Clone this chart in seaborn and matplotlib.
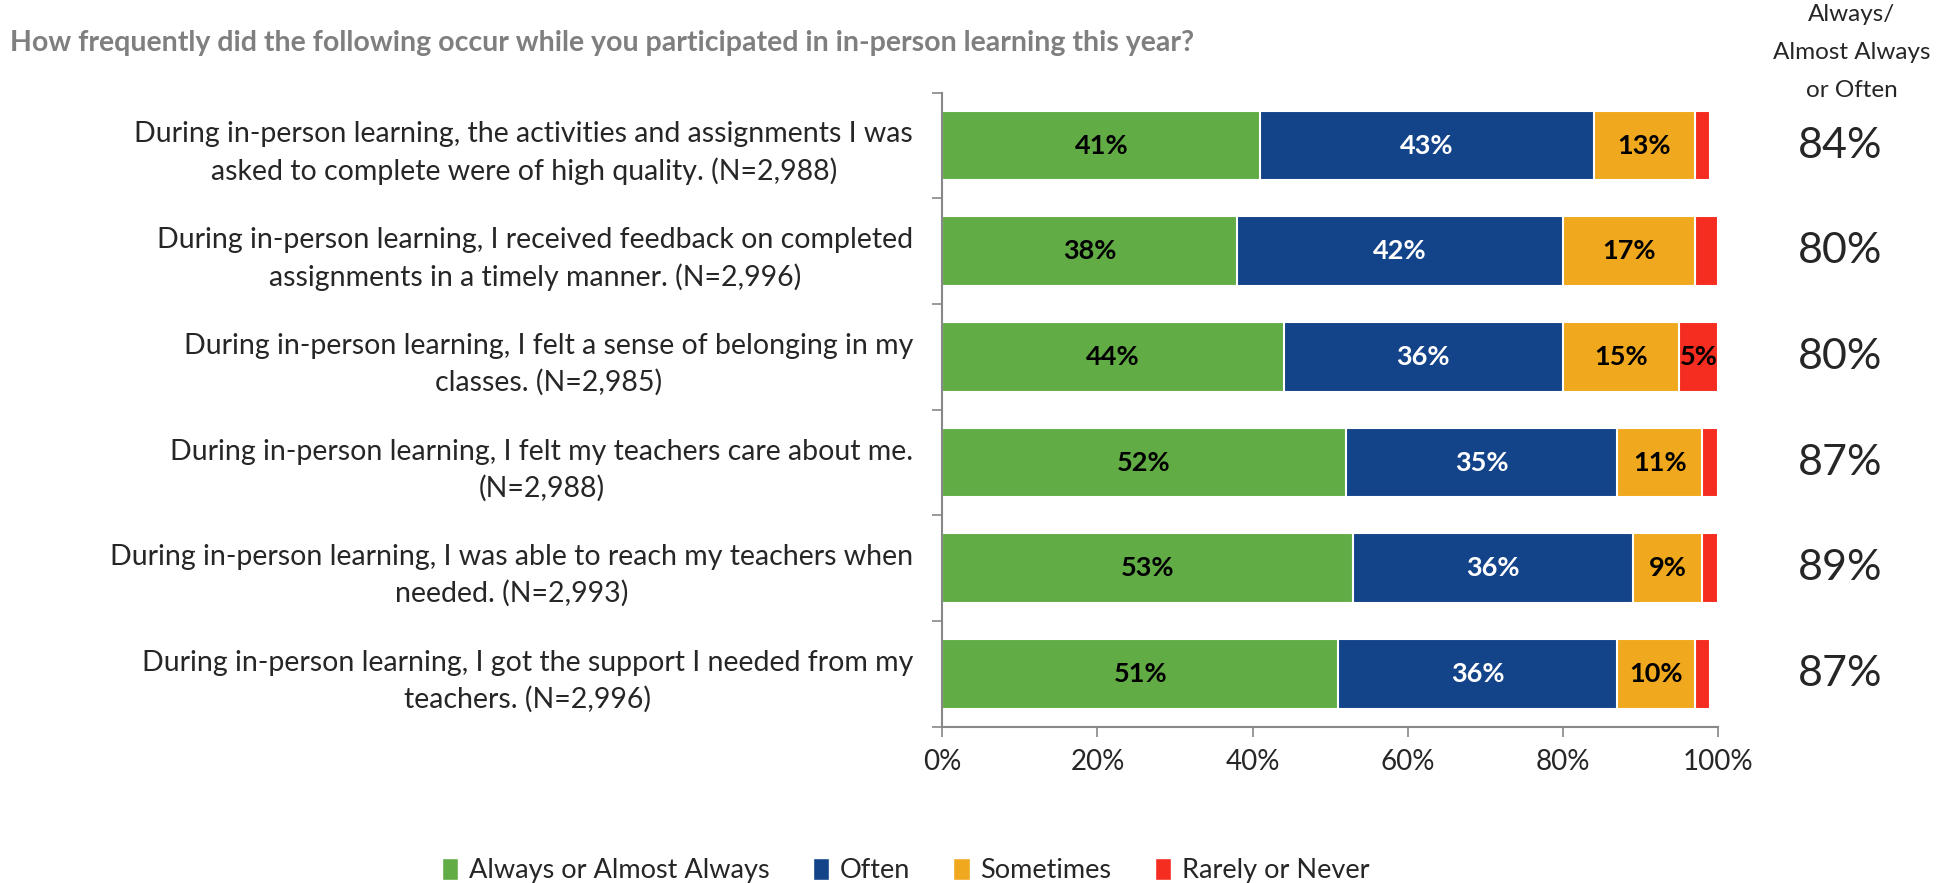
import numpy as np
import pandas as pd
import matplotlib
matplotlib.use("Agg")
import matplotlib.pyplot as plt
import seaborn as sns
from matplotlib.patches import Patch
from matplotlib.ticker import FixedLocator, PercentFormatter

questions = [
    "During in-person learning, the activities and assignments I was\nasked to complete were of high quality. (N=2,988)",
    "During in-person learning, I received feedback on completed\nassignments in a timely manner. (N=2,996)",
    "During in-person learning, I felt a sense of belonging in my\nclasses. (N=2,985)",
    "During in-person learning, I felt my teachers care about me.\n(N=2,988)",
    "During in-person learning, I was able to reach my teachers when\nneeded. (N=2,993)",
    "During in-person learning, I got the support I needed from my\nteachers. (N=2,996)",
]
always = [41, 38, 44, 52, 53, 51]
often = [43, 42, 36, 35, 36, 36]
sometimes = [13, 17, 15, 11, 9, 10]
rarely = [2, 3, 5, 2, 2, 2]
top2 = [84, 80, 80, 87, 89, 87]

series = ["Always or Almost Always", "Often", "Sometimes", "Rarely or Never"]
colors = ["#62AC46", "#134389", "#F0A91E", "#F52C20"]
text_colors = ["black", "white", "black", "black"]

df = pd.DataFrame({"question": questions, "always": always, "often": often,
                   "sometimes": sometimes, "rarely": rarely})
parts = ["always", "often", "sometimes", "rarely"]
cum = df[parts].cumsum(axis=1)

sns.set_theme(style="white")
plt.rcParams["font.family"] = ["Lato", "DejaVu Sans"]

fig = plt.figure(figsize=(19.39, 8.83), dpi=100)
ax = fig.add_axes([0.486, 0.177, 0.4, 0.718])

# stacked bars: draw cumulative totals from the back to the front
for i in range(3, -1, -1):
    sns.barplot(x=cum[parts[i]], y=df["question"], color=colors[i], orient="h",
                width=0.66, edgecolor="white", linewidth=1.5, saturation=1, ax=ax)

# segment labels (small red slices stay unlabeled)
for r in range(len(df)):
    start = 0
    for i, p in enumerate(parts):
        v = df[p].iloc[r]
        if v >= 5:
            ax.text(start + v / 2, r, f"{v}%", ha="center", va="center",
                    fontsize=19.5, fontweight="bold", color=text_colors[i])
        start += v

ax.set_xlim(0, 100)
ax.set_ylim(5.5, -0.5)
ax.set_xlabel("")
ax.set_ylabel("")
ax.xaxis.set_major_locator(FixedLocator([0, 20, 40, 60, 80, 100]))
ax.xaxis.set_major_formatter(PercentFormatter(decimals=0))
ax.yaxis.set_minor_locator(FixedLocator(np.arange(-0.5, 6, 1)))
ax.tick_params(axis="x", which="major", direction="out", length=7, width=1.2,
               color="#888888", labelsize=20, pad=9, bottom=True)
ax.tick_params(axis="y", which="major", length=0, labelsize=20.5, pad=21)
ax.tick_params(axis="y", which="minor", direction="out", length=7, width=1.2,
               color="#888888", left=True)
for lab in ax.get_yticklabels():
    lab.set_multialignment("center")
    lab.set_linespacing(1.45)
for s in ["top", "right"]:
    ax.spines[s].set_visible(False)
for s in ["left", "bottom"]:
    ax.spines[s].set_color("#888888")
    ax.spines[s].set_linewidth(1.5)

# right-hand summary column
fig.text(0.955, 0.94, "Always/\nAlmost Always\nor Often",
         ha="center", va="center", fontsize=17.5, linespacing=2.0)
for r, v in enumerate(top2):
    ax.annotate(f"{v}%", xy=(0.949, r), xycoords=("figure fraction", "data"),
                ha="center", va="center", fontsize=31, annotation_clip=False)

fig.text(0.005, 0.951, "How frequently did the following occur while you participated in in-person learning this year?",
         ha="left", va="center", fontsize=20.5, fontweight="bold", color="#7F7F7F")

handles = [Patch(facecolor=c, label=s) for c, s in zip(colors, series)]
fig.legend(handles=handles, loc="lower center", bbox_to_anchor=(0.467, -0.028), ncol=4,
           frameon=False, fontsize=19.5, handlelength=0.6, handleheight=0.9,
           handletextpad=0.4, columnspacing=1.6)

fig.savefig("out.png", dpi=100)
